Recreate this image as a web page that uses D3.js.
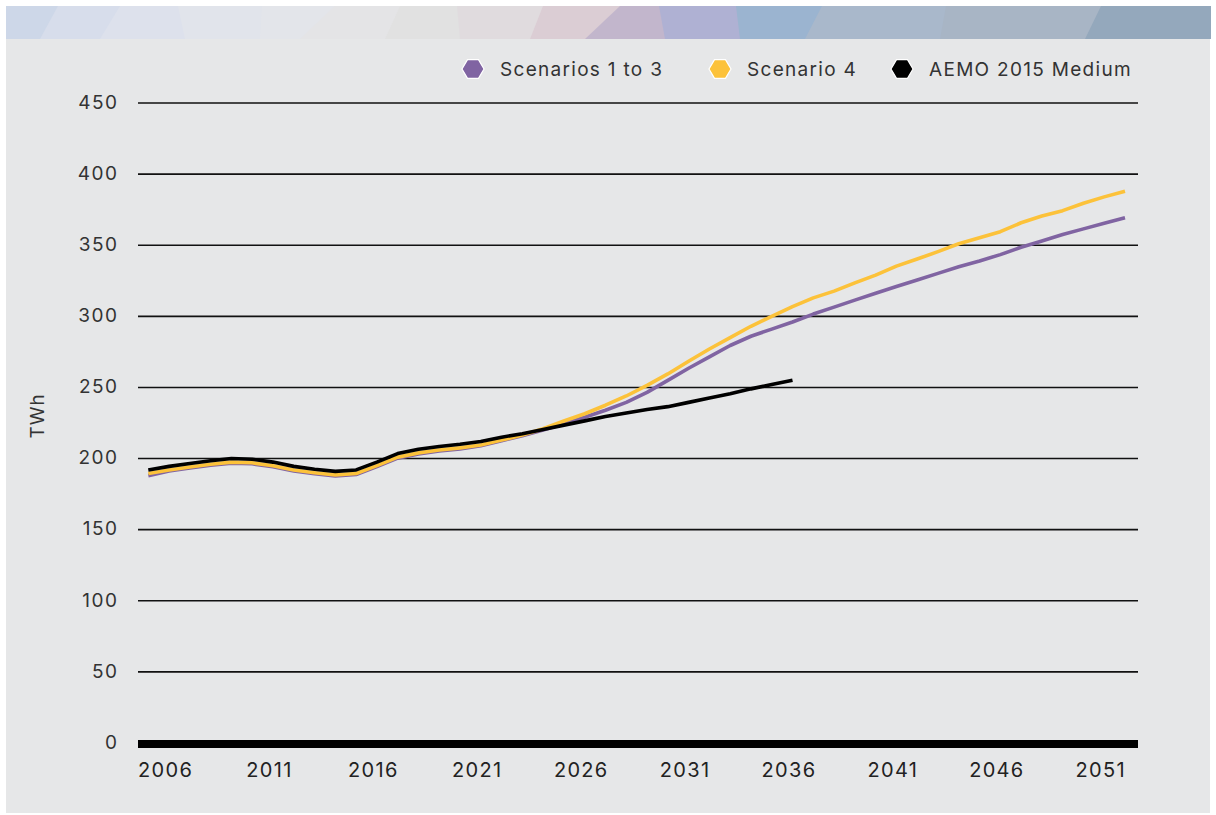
<!DOCTYPE html>
<html>
<head>
<meta charset="utf-8">
<script src="https://cdn.jsdelivr.net/npm/d3@7"></script>
<style>
  html, body { margin: 0; padding: 0; background: #ffffff; }
  svg { display: block; }
  text { font-family: Inter, "Open Sans", sans-serif; }
</style>
</head>
<body>
<svg id="chart" width="1216" height="815"></svg>
<script>
// ---------- DATA ----------
const years = d3.range(2005, 2053); // 2005..2052
const tickYears = [2006, 2011, 2016, 2021, 2026, 2031, 2036, 2041, 2046, 2051];
const yTicks = [0, 50, 100, 150, 200, 250, 300, 350, 400, 450];
const seriesNames = ["Scenarios 1 to 3", "Scenario 4", "AEMO 2015 Medium"];

const scen1to3 = [188, 191.3, 193.3, 195.3, 196.8, 196.3, 194.3, 191.3, 189.3, 187.8,
  188.8, 194.3, 200.3, 203.3, 205.3, 206.8, 209, 212.5, 216, 220,
  224.5, 229, 234, 239.5, 246.5, 255, 263.5, 271.5, 279.5, 286,
  291, 296, 301.6, 306.5, 311.4, 316.2, 321, 325.6, 330.2, 334.8,
  338.9, 343.4, 348.6, 353, 357.5, 361.5, 365.4, 369.3];
const scen4 = [189.5, 192, 194, 196, 197.5, 197, 195, 192, 190, 188.5,
  189.5, 195, 201, 204, 206, 207.5, 209.5, 213, 216.5, 221,
  226.4, 231.5, 237.5, 244, 251.5, 259.5, 268.4, 277, 285, 293,
  300, 306.8, 313, 317.7, 323.5, 329, 335.3, 340.3, 345.5, 351,
  355.3, 359.5, 365.8, 370.5, 374.3, 379.5, 384, 388];
const aemoYears = d3.range(2005, 2037); // 2005..2036
const aemo2015 = [192, 194.5, 196.5, 198.5, 200, 199.5, 197.5, 194.5, 192.5, 191,
  192, 197.5, 203.5, 206.5, 208.5, 210, 212, 215, 217.5, 220.5,
  223.5, 226.5, 229.5, 232, 234.5, 236.5, 239.5, 242.5, 245.5, 249,
  252, 255];

// header decoration
const bandTopX = [6, 58, 120, 178, 262, 335, 400, 457, 543, 620, 659, 736, 822, 946, 1101, 1210];
const bandBotX = [6, 40, 100, 185, 260, 300, 385, 460, 530, 585, 665, 740, 805, 940, 1085, 1210];
const bandColors = ['#cdd7e8','#d7ddeb','#dde1ec','#e1e4eb','#e3e5ea','#e4e4e6','#e1e1e1','#e0dbde',
  '#dbcdd4','#c2b6cc','#afb1d3','#9bb4d0','#a9b8cb','#a8b5c5','#94a8bc'];

// ---------- STYLE ----------
const colors = ["#8064a2", "#fcc23a", "#000000"];
const svg = d3.select("#chart");

// background panel
svg.append("rect").attr("x", 6).attr("y", 38).attr("width", 1204).attr("height", 775).attr("fill", "#e6e7e8");

// header band
const band = svg.append("g");
bandColors.forEach((c, i) => {
  const pts = [[bandTopX[i], 6], [bandTopX[i + 1] + 1, 6], [bandBotX[i + 1] + 1, 39], [bandBotX[i], 39]];
  band.append("polygon").attr("points", pts.map(p => p.join(",")).join(" ")).attr("fill", c);
});

// ---------- SCALES ----------
const x = d3.scaleLinear().domain([2005, 2052]).range([148.3, 1125]);
const y = d3.scaleLinear().domain([0, 450]).range([743, 103]);
const gridX0 = 138, gridX1 = 1138;

// gridlines
svg.append("g").selectAll("line").data(yTicks.filter(d => d > 0)).join("line")
  .attr("x1", gridX0).attr("x2", gridX1)
  .attr("y1", d => y(d)).attr("y2", d => y(d))
  .attr("stroke", "#111").attr("stroke-width", 1.6);

// y axis labels
const yAxis = d3.axisLeft(y).tickValues(yTicks).tickSize(0).tickPadding(0);
const gy = svg.append("g").attr("transform", "translate(118.5,0)").call(yAxis);
gy.select(".domain").remove();
gy.selectAll("text").attr("font-size", 19).attr("fill", "#333").attr("dy", "0.28em")
  .style("letter-spacing", "1.5px")
  .style("font-family", 'Inter, "Open Sans", sans-serif');

// y axis title
svg.append("text").attr("transform", "translate(44,416) rotate(-90)")
  .attr("text-anchor", "middle").attr("font-size", 19).attr("fill", "#333")
  .style("letter-spacing", "1px").text("TWh");

// x axis labels
const xAxis = d3.axisBottom(x).tickValues(tickYears).tickFormat(d3.format("d")).tickSize(0).tickPadding(0);
const gx = svg.append("g").attr("transform", "translate(0,763)").call(xAxis);
gx.select(".domain").remove();
gx.selectAll("text").attr("font-size", 20).attr("fill", "#222").attr("dy", "0.72em").attr("dx", -4)
  .style("letter-spacing", "1.3px")
  .style("font-family", 'Inter, "Open Sans", sans-serif');

// ---------- LINES ----------
const line = d3.line().x(d => x(d[0])).y(d => y(d[1])).curve(d3.curveLinear);
const seriesData = [
  years.map((yr, i) => [yr, scen1to3[i]]),
  years.map((yr, i) => [yr, scen4[i]]),
  aemoYears.map((yr, i) => [yr, aemo2015[i]])
];
svg.append("g").selectAll("path").data(seriesData).join("path")
  .attr("d", line).attr("fill", "none")
  .attr("stroke", (d, i) => colors[i]).attr("stroke-width", 3.6)
  .attr("stroke-linejoin", "round");

// zero baseline
svg.append("line").attr("x1", gridX0).attr("x2", gridX1).attr("y1", y(0) + 1).attr("y2", y(0) + 1)
  .attr("stroke", "#000").attr("stroke-width", 8);

// ---------- LEGEND ----------
const legendX = [473, 720, 902];
const hex = r => d3.range(6).map(k => {
  const a = Math.PI / 3 * k;
  return [r * Math.cos(a), r * Math.sin(a) * 0.98];
});
const lg = svg.append("g").selectAll("g").data(seriesNames).join("g")
  .attr("transform", (d, i) => `translate(${legendX[i]},69)`);
lg.append("polygon").attr("points", hex(11).map(p => p.join(",")).join(" "))
  .attr("fill", (d, i) => colors[i]).attr("stroke", "#fff").attr("stroke-width", 1.2);
lg.append("text").attr("x", 27).attr("y", 7).attr("font-size", 19).attr("fill", "#333")
  .style("letter-spacing", "1.3px").text(d => d);
</script>
</body>
</html>
